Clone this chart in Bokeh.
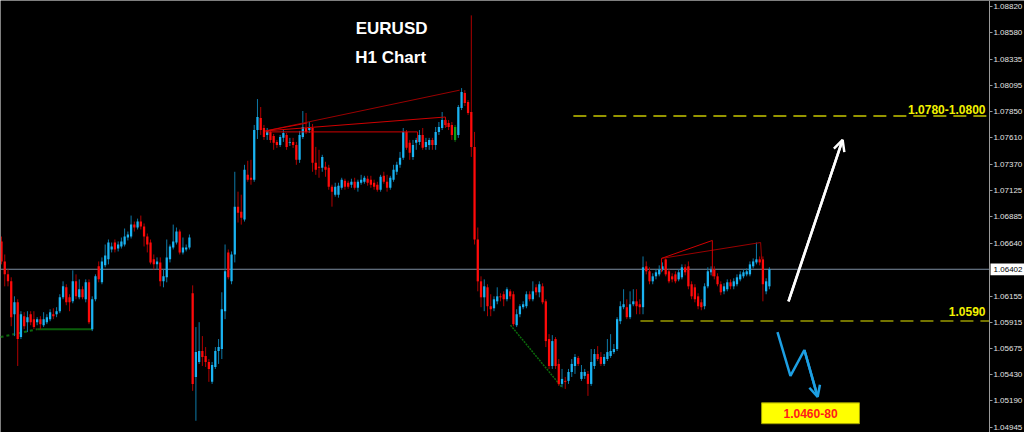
from bokeh.plotting import figure
from bokeh.models import ColumnDataSource, Range1d, FixedTicker, NumeralTickFormatter, LinearAxis, Arrow, OpenHead
from bokeh.embed import file_html
from bokeh.resources import INLINE
from bokeh.core.properties import value

# ---------------- data (EURUSD H1) ----------------
open_ = [
    1.06658, 1.06474, 1.06355, 1.06291, 1.05988, 1.06098, 1.05778, 1.05970, 1.05915, 1.05988,
    1.05943, 1.05915, 1.05943, 1.05887, 1.05915, 1.05943, 1.05988, 1.05988, 1.06016, 1.06144,
    1.06236, 1.06144, 1.06107, 1.06291, 1.06144, 1.06218, 1.06126, 1.06282, 1.05851, 1.06126,
    1.06429, 1.06282, 1.06438, 1.06493, 1.06584, 1.06648, 1.06593, 1.06612, 1.06630, 1.06694,
    1.06703, 1.06813, 1.06786, 1.06841, 1.06795, 1.06703, 1.06648, 1.06493, 1.06447, 1.06465,
    1.06291, 1.06328, 1.06493, 1.06603, 1.06648, 1.06749, 1.06557, 1.06584, 1.06603, 1.06181,
    1.05411, 1.05549, 1.05650, 1.05604, 1.05549, 1.05366, 1.05503, 1.05650, 1.05668, 1.06016,
    1.06557, 1.06291, 1.06538, 1.06978, 1.06932, 1.06859, 1.07271, 1.07244, 1.07226, 1.07683,
    1.07794, 1.07702, 1.07638, 1.07666, 1.07629, 1.07574, 1.07546, 1.07611, 1.07638, 1.07565,
    1.07574, 1.07546, 1.07409, 1.07620, 1.07702, 1.07683, 1.07702, 1.07381, 1.07345, 1.07336,
    1.07345, 1.07336, 1.07162, 1.07088, 1.07088, 1.07152, 1.07217, 1.07198, 1.07180, 1.07207,
    1.07152, 1.07198, 1.07207, 1.07235, 1.07226, 1.07198, 1.07180, 1.07134, 1.07262, 1.07207,
    1.07152, 1.07226, 1.07299, 1.07363, 1.07427, 1.07666, 1.07565, 1.07436, 1.07565, 1.07574,
    1.07638, 1.07528, 1.07546, 1.07592, 1.07546, 1.07666, 1.07702, 1.07775, 1.07748, 1.07730,
    1.07592, 1.07638, 1.07885, 1.08023, 1.07940, 1.07849, 1.07528, 1.06676, 1.06291, 1.06144,
    1.06236, 1.06062, 1.06043, 1.06107, 1.06153, 1.06172, 1.06126, 1.06199, 1.06172, 1.05887,
    1.05988, 1.06053, 1.06062, 1.06172, 1.06126, 1.06236, 1.06190, 1.06245, 1.06107, 1.05760,
    1.05512, 1.05760, 1.05531, 1.05347, 1.05375, 1.05375, 1.05457, 1.05512, 1.05586, 1.05393,
    1.05421, 1.05439, 1.05347, 1.05512, 1.05622, 1.05595, 1.05531, 1.05576, 1.05604, 1.05640,
    1.05668, 1.05924, 1.06053, 1.06053, 1.05961, 1.06080, 1.06107, 1.06080, 1.06053, 1.06429,
    1.06383, 1.06291, 1.06337, 1.06355, 1.06401, 1.06493, 1.06383, 1.06337, 1.06355, 1.06309,
    1.06328, 1.06420, 1.06429, 1.06264, 1.06236, 1.06153, 1.06098, 1.06062, 1.06245, 1.06374,
    1.06401, 1.06337, 1.06264, 1.06199, 1.06218, 1.06282, 1.06245, 1.06264, 1.06309, 1.06337,
    1.06355, 1.06355, 1.06429, 1.06465, 1.06493, 1.06493, 1.06199, 1.06245,
]
high = [
    1.06703, 1.06538, 1.06401, 1.06328, 1.06153, 1.06126, 1.06016, 1.06007, 1.06016, 1.06016,
    1.06016, 1.05961, 1.05970, 1.06007, 1.05988, 1.06034, 1.06043, 1.06053, 1.06172, 1.06291,
    1.06264, 1.06172, 1.06392, 1.06355, 1.06309, 1.06245, 1.06309, 1.06309, 1.06153, 1.06355,
    1.06474, 1.06511, 1.06630, 1.06676, 1.06648, 1.06676, 1.06658, 1.06694, 1.06777, 1.06749,
    1.06896, 1.06841, 1.06868, 1.06896, 1.06823, 1.06731, 1.06676, 1.06538, 1.06511, 1.06511,
    1.06401, 1.06676, 1.06630, 1.06813, 1.06786, 1.06768, 1.06694, 1.06630, 1.06722, 1.06254,
    1.05870, 1.05915, 1.05787, 1.05686, 1.05576, 1.05549, 1.05686, 1.05760, 1.06190, 1.06630,
    1.06584, 1.06566, 1.07299, 1.07116, 1.07088, 1.07363, 1.07400, 1.07409, 1.07730, 1.07968,
    1.07895, 1.07730, 1.07702, 1.07683, 1.07647, 1.07592, 1.07638, 1.07683, 1.07656, 1.07611,
    1.07611, 1.07574, 1.07675, 1.07858, 1.07840, 1.07757, 1.07739, 1.07528, 1.07501, 1.07455,
    1.07391, 1.07363, 1.07180, 1.07198, 1.07198, 1.07244, 1.07235, 1.07217, 1.07235, 1.07244,
    1.07226, 1.07271, 1.07262, 1.07262, 1.07262, 1.07226, 1.07207, 1.07271, 1.07299, 1.07271,
    1.07262, 1.07363, 1.07391, 1.07482, 1.07702, 1.07683, 1.07592, 1.07592, 1.07611, 1.07683,
    1.07702, 1.07611, 1.07611, 1.07611, 1.07711, 1.07757, 1.07849, 1.07794, 1.07775, 1.07757,
    1.07730, 1.07913, 1.08069, 1.08050, 1.07959, 1.08738, 1.07666, 1.06786, 1.06337, 1.06309,
    1.06264, 1.06172, 1.06153, 1.06236, 1.06181, 1.06199, 1.06236, 1.06218, 1.06199, 1.06034,
    1.06080, 1.06107, 1.06199, 1.06199, 1.06291, 1.06264, 1.06291, 1.06273, 1.06126, 1.05805,
    1.05796, 1.05778, 1.05576, 1.05485, 1.05411, 1.05485, 1.05576, 1.05622, 1.05604, 1.05521,
    1.05485, 1.05466, 1.05668, 1.05668, 1.05695, 1.05640, 1.05622, 1.05760, 1.05805, 1.05714,
    1.05961, 1.06107, 1.06218, 1.06126, 1.06199, 1.06218, 1.06218, 1.06126, 1.06520, 1.06474,
    1.06420, 1.06365, 1.06401, 1.06438, 1.06465, 1.06502, 1.06401, 1.06365, 1.06383, 1.06401,
    1.06447, 1.06447, 1.06474, 1.06291, 1.06264, 1.06181, 1.06126, 1.06273, 1.06420, 1.06429,
    1.06429, 1.06365, 1.06291, 1.06273, 1.06309, 1.06309, 1.06319, 1.06355, 1.06383, 1.06401,
    1.06410, 1.06474, 1.06502, 1.06648, 1.06520, 1.06520, 1.06319, 1.06420,
]
low = [
    1.06447, 1.06245, 1.06245, 1.05878, 1.05787, 1.05512, 1.05760, 1.05851, 1.05824, 1.05887,
    1.05851, 1.05887, 1.05851, 1.05870, 1.05897, 1.05924, 1.05943, 1.05961, 1.05998, 1.06126,
    1.06071, 1.06016, 1.06089, 1.06126, 1.06126, 1.06126, 1.06098, 1.05897, 1.05833, 1.06107,
    1.06282, 1.06264, 1.06420, 1.06447, 1.06557, 1.06557, 1.06566, 1.06593, 1.06612, 1.06667,
    1.06685, 1.06749, 1.06768, 1.06768, 1.06612, 1.06557, 1.06447, 1.06401, 1.06401, 1.06245,
    1.06236, 1.06282, 1.06465, 1.06584, 1.06630, 1.06538, 1.06538, 1.06566, 1.06584, 1.05283,
    1.05008, 1.05531, 1.05512, 1.05503, 1.05366, 1.05347, 1.05485, 1.05531, 1.05576, 1.05943,
    1.06309, 1.06264, 1.06465, 1.06832, 1.06813, 1.06841, 1.07207, 1.07180, 1.07207, 1.07601,
    1.07638, 1.07592, 1.07592, 1.07565, 1.07501, 1.07519, 1.07528, 1.07574, 1.07501, 1.07537,
    1.07519, 1.07363, 1.07381, 1.07601, 1.07647, 1.07656, 1.07299, 1.07271, 1.07244, 1.07299,
    1.07253, 1.07134, 1.06978, 1.07070, 1.07061, 1.07134, 1.07134, 1.07143, 1.07152, 1.07134,
    1.07116, 1.07180, 1.07189, 1.07171, 1.07152, 1.07134, 1.07116, 1.07116, 1.07189, 1.07116,
    1.07134, 1.07207, 1.07271, 1.07336, 1.07409, 1.07501, 1.07409, 1.07409, 1.07501, 1.07546,
    1.07501, 1.07501, 1.07501, 1.07501, 1.07501, 1.07638, 1.07683, 1.07702, 1.07683, 1.07592,
    1.07574, 1.07611, 1.07867, 1.07904, 1.07821, 1.07436, 1.06630, 1.06199, 1.06053, 1.06016,
    1.05970, 1.05970, 1.06016, 1.06080, 1.06107, 1.06062, 1.06107, 1.06126, 1.05878, 1.05870,
    1.05961, 1.06034, 1.06043, 1.06107, 1.06107, 1.06163, 1.06144, 1.06080, 1.05686, 1.05485,
    1.05485, 1.05485, 1.05329, 1.05320, 1.05301, 1.05347, 1.05411, 1.05439, 1.05512, 1.05375,
    1.05393, 1.05237, 1.05329, 1.05485, 1.05558, 1.05512, 1.05512, 1.05558, 1.05586, 1.05622,
    1.05650, 1.05897, 1.06034, 1.05943, 1.05943, 1.06062, 1.05988, 1.05988, 1.05988, 1.06355,
    1.06264, 1.06264, 1.06309, 1.06337, 1.06383, 1.06337, 1.06273, 1.06282, 1.06273, 1.06291,
    1.06309, 1.06346, 1.06218, 1.06126, 1.06098, 1.06034, 1.06025, 1.06034, 1.06227, 1.06346,
    1.06309, 1.06245, 1.06163, 1.06172, 1.06199, 1.06218, 1.06218, 1.06245, 1.06291, 1.06319,
    1.06337, 1.06337, 1.06410, 1.06447, 1.06438, 1.06107, 1.06172, 1.06218,
]
close = [
    1.06474, 1.06355, 1.06291, 1.05961, 1.06098, 1.05760, 1.05988, 1.05878, 1.05961, 1.05915,
    1.05870, 1.05943, 1.05897, 1.05943, 1.05961, 1.06007, 1.05970, 1.06016, 1.06144, 1.06245,
    1.06098, 1.06098, 1.06291, 1.06153, 1.06218, 1.06144, 1.06282, 1.05915, 1.06126, 1.06337,
    1.06309, 1.06474, 1.06529, 1.06648, 1.06612, 1.06584, 1.06630, 1.06658, 1.06703, 1.06722,
    1.06813, 1.06786, 1.06841, 1.06795, 1.06703, 1.06630, 1.06465, 1.06447, 1.06474, 1.06291,
    1.06337, 1.06511, 1.06612, 1.06658, 1.06749, 1.06557, 1.06603, 1.06603, 1.06694, 1.05347,
    1.05640, 1.05650, 1.05595, 1.05549, 1.05485, 1.05521, 1.05650, 1.05686, 1.06034, 1.06383,
    1.06328, 1.06538, 1.06978, 1.06923, 1.06877, 1.07318, 1.07226, 1.07226, 1.07683, 1.07803,
    1.07683, 1.07620, 1.07683, 1.07592, 1.07565, 1.07546, 1.07620, 1.07656, 1.07528, 1.07574,
    1.07546, 1.07409, 1.07638, 1.07711, 1.07666, 1.07711, 1.07381, 1.07318, 1.07336, 1.07436,
    1.07318, 1.07162, 1.07116, 1.07162, 1.07171, 1.07226, 1.07162, 1.07162, 1.07207, 1.07152,
    1.07207, 1.07226, 1.07244, 1.07198, 1.07180, 1.07162, 1.07134, 1.07253, 1.07207, 1.07152,
    1.07244, 1.07318, 1.07363, 1.07427, 1.07666, 1.07519, 1.07473, 1.07546, 1.07592, 1.07638,
    1.07519, 1.07574, 1.07592, 1.07546, 1.07666, 1.07711, 1.07775, 1.07730, 1.07711, 1.07638,
    1.07711, 1.07895, 1.08032, 1.07931, 1.07840, 1.07528, 1.06676, 1.06291, 1.06144, 1.06245,
    1.06062, 1.06034, 1.06126, 1.06153, 1.06144, 1.06126, 1.06218, 1.06153, 1.05897, 1.05988,
    1.06062, 1.06080, 1.06172, 1.06126, 1.06199, 1.06190, 1.06264, 1.06098, 1.05741, 1.05512,
    1.05741, 1.05512, 1.05347, 1.05393, 1.05366, 1.05457, 1.05531, 1.05595, 1.05531, 1.05457,
    1.05457, 1.05347, 1.05549, 1.05622, 1.05576, 1.05531, 1.05595, 1.05640, 1.05650, 1.05668,
    1.05943, 1.06062, 1.06080, 1.05961, 1.06080, 1.06107, 1.06062, 1.06053, 1.06420, 1.06383,
    1.06291, 1.06337, 1.06374, 1.06401, 1.06429, 1.06355, 1.06291, 1.06309, 1.06291, 1.06374,
    1.06420, 1.06374, 1.06245, 1.06153, 1.06126, 1.06062, 1.06053, 1.06245, 1.06383, 1.06401,
    1.06337, 1.06264, 1.06190, 1.06245, 1.06282, 1.06245, 1.06291, 1.06328, 1.06355, 1.06374,
    1.06383, 1.06447, 1.06474, 1.06493, 1.06465, 1.06264, 1.06291, 1.06402,
]
highlight_bars = [140]          # bar drawn in green by the indicator

price_ticks = [1.08820, 1.08580, 1.08335, 1.08095, 1.07850, 1.07610, 1.07370, 1.07125,
               1.06885, 1.06640, 1.06155, 1.05915, 1.05675, 1.05430, 1.05190, 1.04945]
current_price = 1.06402
current_label = "1.06402"

level_prices = [1.07812, 1.05925]
level_start_bar = [176.5, 197.2]
level_texts = ["1.0780-1.0800", "1.0590"]
target_text = "1.0460-80"
target_box = dict(left=234.6, right=264.8, top=1.05173, bottom=1.04981)

# triangle / pattern lines (bar index, price)
pattern_dark_x = [[81.5, 141.4], [203.7, 234.3, 234.6]]
pattern_dark_y = [[1.07675, 1.08050], [1.06502, 1.06648, 1.06493]]
pattern_red_x = [[81.5, 137.0, 137.3], [81.5, 128.4, 128.4], [81.5, 94.4],
                 [203.7, 219.4, 219.4], [203.7, 203.7]]
pattern_red_y = [[1.07675, 1.07803, 1.07711], [1.07666, 1.07666, 1.07574], [1.07675, 1.07748],
                 [1.06502, 1.06667, 1.06337], [1.06502, 1.06374]]
support_dash_x, support_dash_y = [-0.3, 11.1], [1.05778, 1.05851]
support_solid_x, support_solid_y = [11.1, 28.1], [1.05851, 1.05851]
trend_dot_x, trend_dot_y = [157.1, 173.1], [1.05888, 1.05311]

up_arrow_x, up_arrow_y = [242.9, 259.6], [1.06107, 1.07592]
down_path_x = [239.5, 243.5, 247.8, 251.9]
down_path_y = [1.05824, 1.05421, 1.05659, 1.05228]

title_lines = ["EURUSD", "H1 Chart"]
title_x = [120.4, 120.1]
title_y = [1.08618, 1.08353]

assert len(open_) == len(high) == len(low) == len(close)
n = len(close)

# ---------------- layout constants ----------------
X_LEFT, X_RIGHT = -0.31, 315.74      # bar-index range across the whole canvas
AXIS_AT = 304.9                      # price scale position (bar-index units)
Y_BOTTOM, Y_TOP = 1.04900, 1.08875

# ---------------- build ----------------
BULL, BEAR, MARK = "#1ab3f2", "#ff0a0a", "#11a011"
BULL_W, BEAR_W, MARK_W = "#0e7aa8", "#b00000", "#0b700b"
body_col, wick_col = [], []
for i in range(n):
    if i in highlight_bars:
        body_col.append(MARK); wick_col.append(MARK_W)
    elif close[i] >= open_[i]:
        body_col.append(BULL); wick_col.append(BULL_W)
    else:
        body_col.append(BEAR); wick_col.append(BEAR_W)

src = ColumnDataSource(dict(
    x=list(range(n)), o=open_, h=high, l=low, c=close,
    top=[max(a, b) for a, b in zip(open_, close)],
    bot=[min(a, b) for a, b in zip(open_, close)],
    bc=body_col, wc=wick_col))

p = figure(width=1024, height=432, output_backend="svg", toolbar_location=None,
           x_range=Range1d(X_LEFT, X_RIGHT), y_range=Range1d(Y_BOTTOM, Y_TOP),
           x_axis_location=None, y_axis_location=None,
           min_border_left=0, min_border_top=0, min_border_bottom=0, min_border_right=0,
           background_fill_color="black", border_fill_color="black", outline_line_color=None)
p.xgrid.visible = False
p.ygrid.visible = False

ax = LinearAxis(fixed_location=AXIS_AT,
                ticker=FixedTicker(ticks=price_ticks),
                formatter=NumeralTickFormatter(format="0.00000"))
ax.axis_line_color = "#9a9a9a"
ax.major_tick_line_color = "#9a9a9a"
ax.major_tick_out = 3
ax.major_tick_in = 0
ax.minor_tick_line_color = None
ax.major_label_text_color = "#e4e4e4"
ax.major_label_text_font = "Liberation Sans"
ax.major_label_text_font_size = "8px"
ax.major_label_standoff = 1
p.add_layout(ax, "right")

# current price line (ends at the price scale)
p.segment(x0=[X_LEFT], x1=[AXIS_AT], y0=[current_price], y1=[current_price],
          line_color="#7d8ea3", line_width=1)

# support / trend lines under candles
p.line(support_dash_x, support_dash_y, line_color="#0b6a0b", line_width=2, line_dash="3 3")
p.line(support_solid_x, support_solid_y, line_color="#0b5e0b", line_width=2)
p.line(trend_dot_x, trend_dot_y, line_color="#0b6a0b", line_width=1.5, line_dash="2 1")

# candles
p.segment(x0="x", y0="l", x1="x", y1="h", line_color="wc", line_width=1, source=src)
p.vbar(x="x", width=0.7, top="top", bottom="bot", fill_color="bc", line_color=None, source=src)

# pattern lines
p.multi_line(pattern_dark_x, pattern_dark_y, line_color="#9a0000", line_width=1)
p.multi_line(pattern_red_x, pattern_red_y, line_color="#d00000", line_width=1)

# levels
p.segment(x0=level_start_bar, x1=[AXIS_AT, AXIS_AT], y0=level_prices, y1=level_prices,
          line_color=["#c8c800", "#9a9a00"], line_width=1.5, line_dash="13 7")
p.text(x=[303.7, 303.7], y=[1.07876, 1.06011], text=level_texts,
       text_color="#f2f200", text_font=value("Liberation Sans"), text_font_style="bold",
       text_font_size="12px", text_align="right", text_baseline="middle")

# title
p.text(x=title_x, y=title_y, text=title_lines, text_color="white",
       text_font=value("Liberation Sans"), text_font_style="bold", text_font_size="17px",
       text_align="center", text_baseline="middle")

# arrows
p.line(up_arrow_x, up_arrow_y, line_color="white", line_width=2.5)
p.add_layout(Arrow(end=OpenHead(size=11, line_color="white", line_width=2.5),
                   x_start=up_arrow_x[0], y_start=up_arrow_y[0],
                   x_end=up_arrow_x[1], y_end=up_arrow_y[1],
                   line_color="white", line_width=2.5))
p.line(down_path_x, down_path_y, line_color="#1d9fe3", line_width=2.5)
p.add_layout(Arrow(end=OpenHead(size=11, line_color="#1d9fe3", line_width=2.5),
                   x_start=down_path_x[-2], y_start=down_path_y[-2],
                   x_end=down_path_x[-1], y_end=down_path_y[-1],
                   line_color="#1d9fe3", line_width=2.5))

# target box
p.quad(fill_color="#ffff00", line_color="#a0a000", line_width=1, **target_box)
p.text(x=[(target_box["left"] + target_box["right"]) / 2], y=[1.05077], text=[target_text],
       text_color="#ff1a1a", text_font=value("Liberation Sans"), text_font_style="bold",
       text_font_size="12px", text_align="center", text_baseline="middle")

# current price tag on the price scale
p.quad(left=[AXIS_AT + 0.35], right=[X_RIGHT + 1], top=[1.06456], bottom=[1.06346],
       fill_color="white", line_color=None)
p.text(x=[AXIS_AT + 1.3], y=[current_price], text=[current_label], text_color="black",
       text_font=value("Liberation Sans"), text_font_size="8px",
       text_align="left", text_baseline="middle")

open("out.html", "w").write(file_html(p, INLINE))
